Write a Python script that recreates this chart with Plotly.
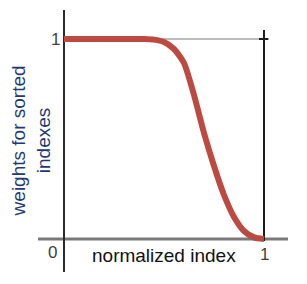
import plotly.graph_objects as go

# data
x_vals = [0, 0.1, 0.2, 0.3, 0.4, 0.45, 0.5, 0.55, 0.6, 0.65, 0.7, 0.75, 0.8, 0.85, 0.9, 0.95, 1.0]
y_vals = [1, 1, 1, 1, 1, 0.997, 0.985, 0.95, 0.88, 0.72, 0.53, 0.365, 0.22, 0.11, 0.04, 0.008, 0]
y_title = "weights for sorted<br>indexes"
x_title = "normalized index"
tick_0 = "0"
tick_1 = "1"

FONT = "Liberation Sans"

fig = go.Figure()
fig.add_trace(go.Scatter(x=x_vals, y=y_vals, mode="lines",
                         line=dict(color="#BC4A40", width=6, shape="spline", smoothing=0.6),
                         hoverinfo="skip", showlegend=False))

shapes = [
    # gray line at y=1
    dict(type="line", x0=0, x1=1, y0=1, y1=1, line=dict(color="#BDBDBD", width=2), layer="below"),
    # horizontal axis
    dict(type="line", x0=-0.13, x1=1.12, y0=0, y1=0, line=dict(color="#7A7A7A", width=3), layer="below"),
    # vertical axis
    dict(type="line", x0=0, x1=0, y0=-0.165, y1=1.145, line=dict(color="#2A2A2A", width=2), layer="below"),
    # vertical line at x=1
    dict(type="line", x0=1, x1=1, y0=-0.01, y1=1.045, line=dict(color="#1E1E1E", width=2), layer="below"),
    # plus tick
    dict(type="line", x0=0.975, x1=1.022, y0=1, y1=1, line=dict(color="#1E1E1E", width=2), layer="below"),
]

annotations = [
    dict(x=-0.045, y=1, text=tick_1, showarrow=False, xanchor="center", yanchor="middle",
         font=dict(family=FONT, size=17, color="#404040")),
    dict(x=-0.06, y=-0.068, text=tick_0, showarrow=False, xanchor="center", yanchor="middle",
         font=dict(family=FONT, size=17, color="#404040")),
    dict(x=1.0, y=-0.075, text=tick_1, showarrow=False, xanchor="center", yanchor="middle",
         font=dict(family=FONT, size=17, color="#404040")),
    dict(x=0.5, y=-0.08, text=x_title, showarrow=False, xanchor="center", yanchor="middle",
         font=dict(family=FONT, size=19, color="#111111")),
    dict(x=-0.163, y=0.49, text=y_title, showarrow=False, xanchor="center", yanchor="middle",
         textangle=-90, font=dict(family=FONT, size=19, color="#1F3A73")),
]

fig.update_layout(
    width=307, height=284,
    margin=dict(l=0, r=0, t=0, b=0),
    paper_bgcolor="white", plot_bgcolor="white",
    xaxis=dict(range=[-0.28, 1.255], visible=False, fixedrange=True),
    yaxis=dict(range=[-0.265, 1.155], visible=False, fixedrange=True),
    shapes=shapes, annotations=annotations,
)

fig.write_html("out.html")
